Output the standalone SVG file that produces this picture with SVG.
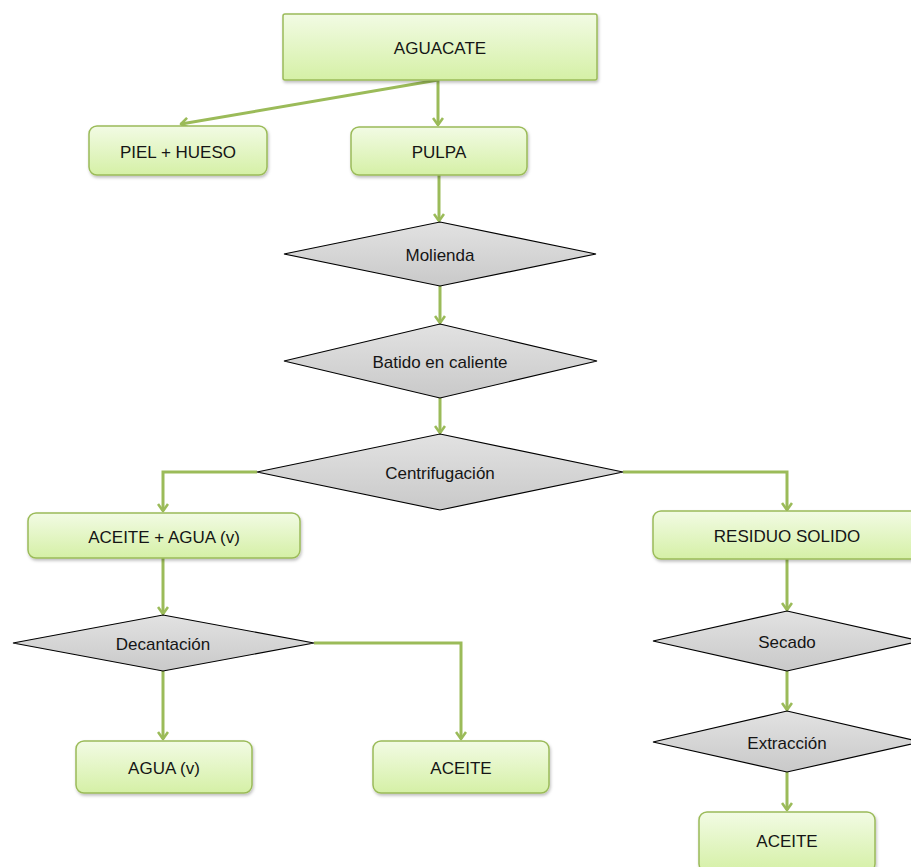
<svg xmlns="http://www.w3.org/2000/svg" width="911" height="867" viewBox="0 0 911 867">
<defs>
<linearGradient id="gBox" x1="0" y1="0" x2="0" y2="1">
<stop offset="0" stop-color="#f2fbe4"/>
<stop offset="1" stop-color="#d5f0a6"/>
</linearGradient>
<linearGradient id="gDia" x1="0" y1="0" x2="0" y2="1">
<stop offset="0" stop-color="#e2e2e2"/>
<stop offset="1" stop-color="#c9c9c9"/>
</linearGradient>
<filter id="sh" x="-10%" y="-10%" width="120%" height="130%">
<feDropShadow dx="1" dy="2" stdDeviation="1.5" flood-color="#000" flood-opacity="0.25"/>
</filter>
<marker id="arr" viewBox="0 0 12 12" refX="9" refY="6" markerWidth="12" markerHeight="12" markerUnits="userSpaceOnUse" orient="auto">
<path d="M2,1 L9,6 L2,11" fill="none" stroke="#9bbb59" stroke-width="2.6" stroke-linejoin="round"/>
</marker>
<style>
.box{fill:url(#gBox);stroke:#9bbb59;stroke-width:1.5;filter:url(#sh)}
.dia{fill:url(#gDia);stroke:#000;stroke-width:1.2}
.lbl{font-family:"Liberation Sans",Arial,sans-serif;font-size:17px;fill:#151515;text-anchor:middle}
.con{fill:none;stroke:#9bbb59;stroke-width:3;marker-end:url(#arr)}
</style>
</defs>
<rect width="911" height="867" fill="#fff"/>

<g id="connectors">
<path class="con" d="M438,80 L181,124"/>
<path class="con" d="M438,80 L438,125"/>
<path class="con" d="M439,175 L439,221"/>
<path class="con" d="M440,286 L440,323"/>
<path class="con" d="M440,398 L440,433"/>
<path class="con" d="M257,472 L163,472 L163,511"/>
<path class="con" d="M623,472 L787,472 L787,510"/>
<path class="con" d="M163,558 L163,614"/>
<path class="con" d="M163,671 L163,739"/>
<path class="con" d="M314,643 L461,643 L461,739"/>
<path class="con" d="M787,559 L787,610"/>
<path class="con" d="M787,671 L787,710"/>
<path class="con" d="M787,772 L787,810"/>
</g>

<g id="aguacate">
<rect class="box" x="283" y="14" width="314" height="66" rx="2"/>
<text class="lbl" x="440" y="54">AGUACATE</text>
</g>
<g id="piel">
<rect class="box" x="89" y="126" width="178" height="49" rx="8"/>
<text class="lbl" x="178" y="158">PIEL + HUESO</text>
</g>
<g id="pulpa">
<rect class="box" x="351" y="127" width="176" height="48" rx="8"/>
<text class="lbl" x="439" y="158">PULPA</text>
</g>
<g id="molienda">
<polygon class="dia" points="440,222 596,254 440,286 284,254"/>
<text class="lbl" x="440" y="261">Molienda</text>
</g>
<g id="batido">
<polygon class="dia" points="440,324 597,361 440,398 284,361"/>
<text class="lbl" x="440" y="368">Batido en caliente</text>
</g>
<g id="centrifugacion">
<polygon class="dia" points="440,434 623,472 440,510 257,472"/>
<text class="lbl" x="440" y="479">Centrifugación</text>
</g>
<g id="aceite-agua">
<rect class="box" x="28" y="513" width="272" height="45" rx="8"/>
<text class="lbl" x="164" y="543">ACEITE + AGUA (v)</text>
</g>
<g id="residuo">
<rect class="box" x="653" y="511" width="270" height="48" rx="8"/>
<text class="lbl" x="787" y="542">RESIDUO SOLIDO</text>
</g>
<g id="decantacion">
<polygon class="dia" points="163,615 314,643 163,671 13,643"/>
<text class="lbl" x="163" y="650">Decantación</text>
</g>
<g id="agua">
<rect class="box" x="76" y="741" width="176" height="52" rx="8"/>
<text class="lbl" x="164" y="774">AGUA (v)</text>
</g>
<g id="aceite1">
<rect class="box" x="373" y="741" width="176" height="52" rx="8"/>
<text class="lbl" x="461" y="774">ACEITE</text>
</g>
<g id="secado">
<polygon class="dia" points="787,611 921,641 787,671 653,641"/>
<text class="lbl" x="787" y="648">Secado</text>
</g>
<g id="extraccion">
<polygon class="dia" points="787,711 921,742 787,772 653,742"/>
<text class="lbl" x="787" y="749">Extracción</text>
</g>
<g id="aceite2">
<rect class="box" x="699" y="812" width="176" height="60" rx="8"/>
<text class="lbl" x="787" y="847">ACEITE</text>
</g>
</svg>
